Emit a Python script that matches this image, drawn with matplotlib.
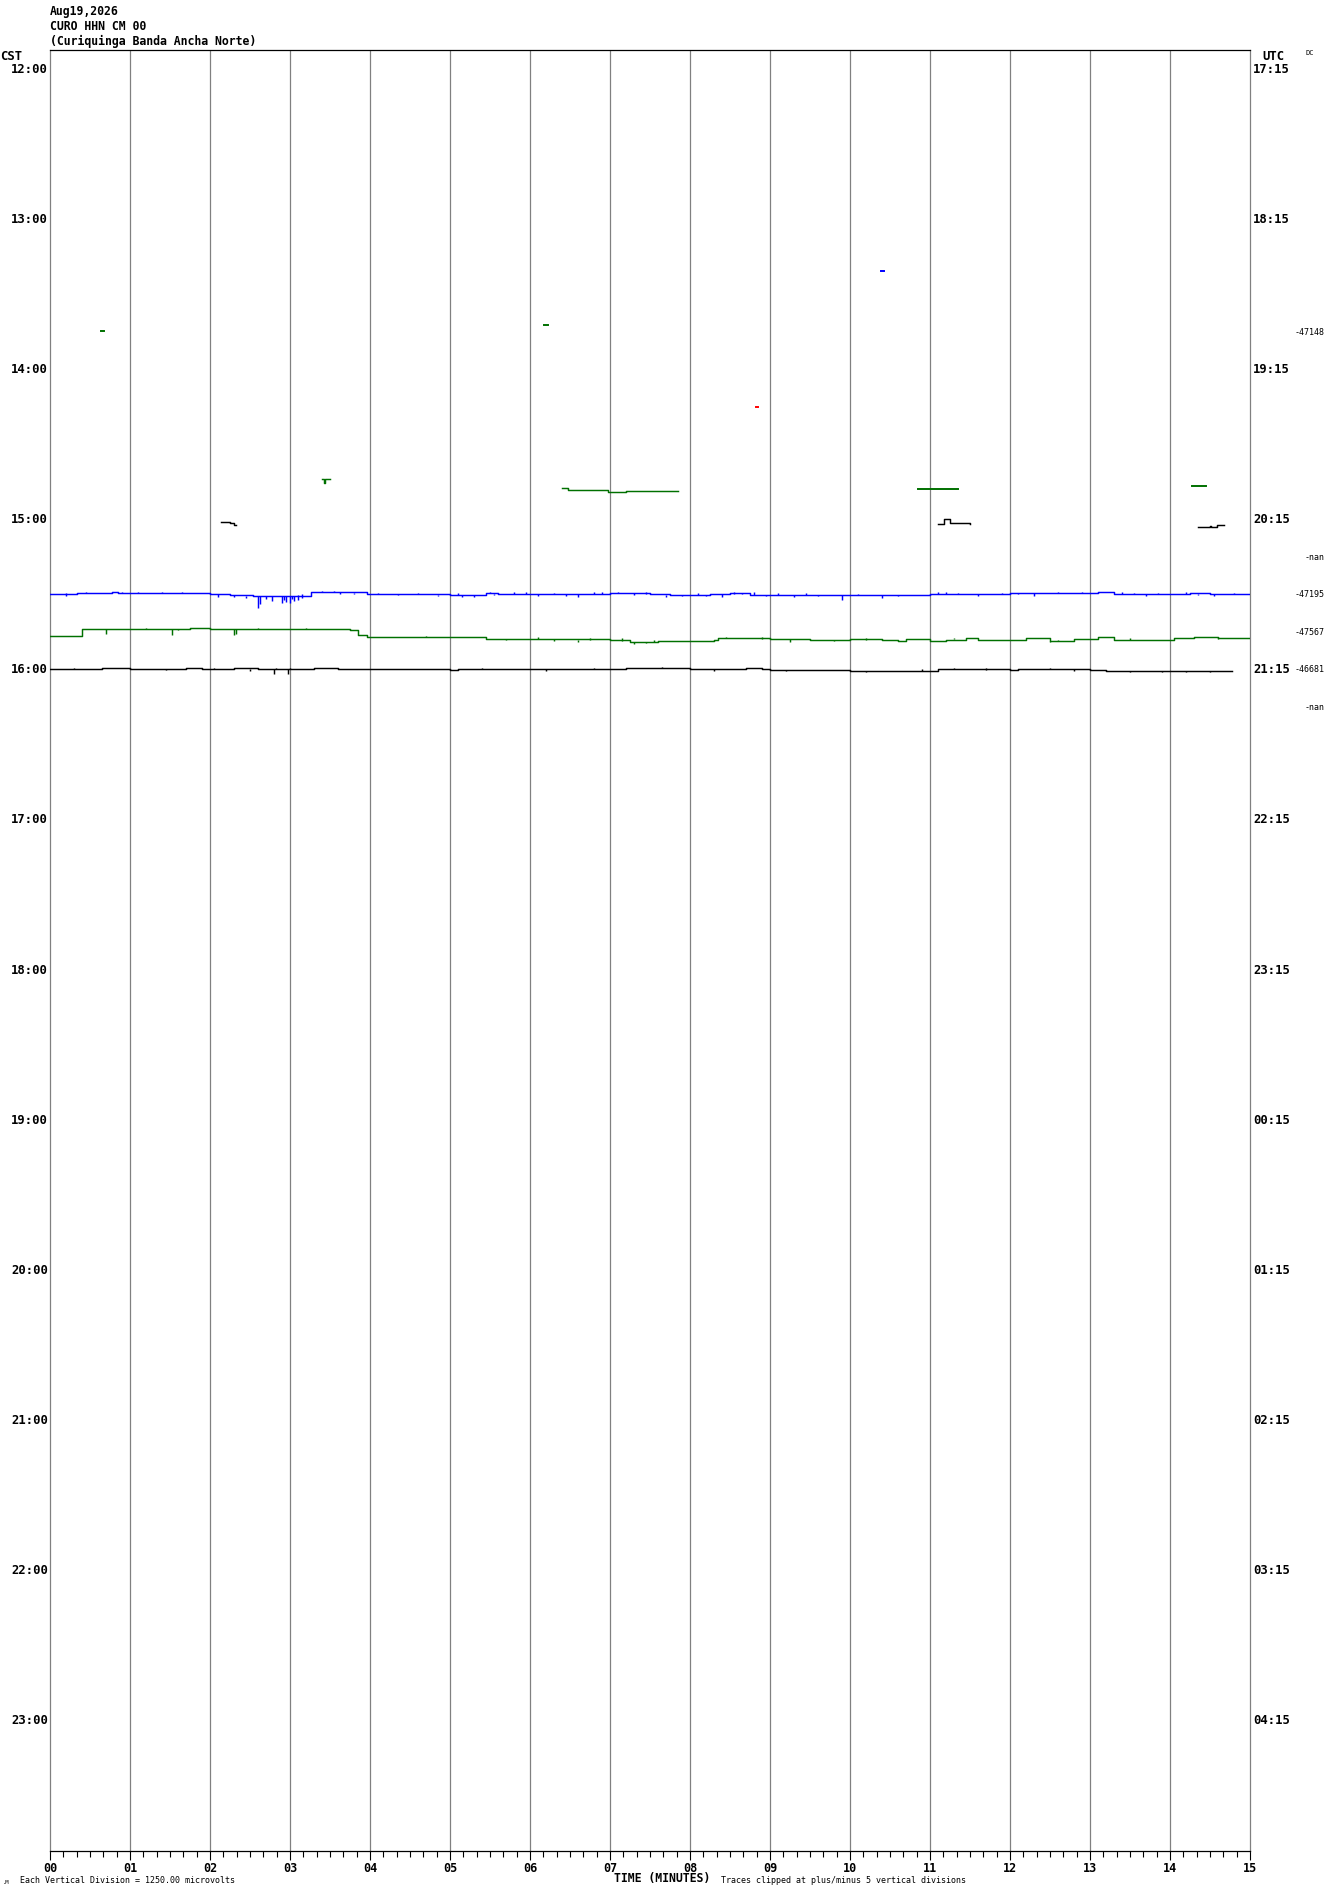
import numpy as np
import matplotlib
matplotlib.use('Agg')
import matplotlib.pyplot as plt
from matplotlib.transforms import blended_transform_factory

# --- figure geometry (pixels) ---
W, H = 1330, 1894
AX_L, AX_R, AX_T, AX_B = 50, 1250, 50, 1851
ROW_PX = 37.5          # spacing between traces (15 min)
FIRST_ROW_PX = 70      # 12:00 trace below the top edge

MONO = 'DejaVu Sans Mono'

# --- texts ---
HEADER = ['Aug19,2026', 'CURO HHN CM 00', '(Curiquinga Banda Ancha Norte)']
CST_HOURS = ['12:00', '13:00', '14:00', '15:00', '16:00', '17:00',
             '18:00', '19:00', '20:00', '21:00', '22:00', '23:00']
UTC_HOURS = ['17:15', '18:15', '19:15', '20:15', '21:15', '22:15',
             '23:15', '00:15', '01:15', '02:15', '03:15', '04:15']
MINUTE_LABELS = ['%02d' % m for m in range(16)]
TRACE_COLORS = ['#000000', '#ff0000', '#0000ff', '#007000']

# DC values printed at the right of some rows
DC_ROWS = [7, 13, 14, 15, 16, 17]
DC_TEXT = ['-47148', '-nan', '-47195', '-47567', '-46681', '-nan']

# --- trace data: time (minutes) and offset (pixels, + = down) ---
# row 14 (15:30, blue)
row14_t = [0, 0.34, 0.5, 0.78, 0.85, 1.25, 1.5, 1.75, 2.0, 2.25, 2.54, 2.75,
           3.0, 3.26, 3.5, 3.75, 3.96, 4.25, 4.5, 4.75, 5.0, 5.25, 5.45, 5.6,
           6.0, 6.25, 6.5, 6.75, 7.0, 7.25, 7.5, 7.75, 8.0, 8.25, 8.5, 8.75,
           9.0, 9.25, 9.5, 9.75, 10.0, 10.25, 10.5, 10.75, 11.0, 11.25, 11.5,
           11.75, 12.0, 12.25, 12.5, 12.75, 13.0, 13.1, 13.3, 13.75, 14.0,
           14.25, 14.5, 14.75, 15.0]
row14_off = [-1, -2, -2, -3, -1.7, -1.7, -2, -1.5, -1, 0, 1.5, 1.5,
             1.5, -2.7, -2.7, -2.5, -1, -1, -1, -0.5, 0.5, 0.5, -2, -1,
             -1, -0.5, -1, -1, -1.7, -1.7, -1, 0.3, 0, -0.5, -1.5, 0,
             0, 0.3, 0.3, 0.5, 0.3, 0.3, 0, 0.3, -1, -1, -0.5,
             -0.7, -2, -2, -1.5, -1.5, -2, -3, -1, -1, -1,
             -1.5, -1, -1, -1]
row14_spike_t = [0.2, 0.45, 0.9, 1.1, 1.4, 1.65, 2.1, 2.3, 2.45, 2.6, 2.62,
                 2.7, 2.78, 2.9, 2.93, 2.95, 3.0, 3.02, 3.05, 3.1, 3.15, 3.4,
                 3.55, 3.62, 3.8, 4.1, 4.35, 4.6, 4.85, 5.1, 5.15, 5.3, 5.5,
                 5.55, 5.8, 5.95, 6.1, 6.3, 6.45, 6.6, 6.8, 6.9, 7.1, 7.3,
                 7.45, 7.7, 7.9, 8.1, 8.2, 8.4, 8.55, 8.65, 8.8, 8.95, 9.1,
                 9.3, 9.45, 9.6, 9.9, 10.1, 10.4, 10.6, 11.1, 11.2, 11.35,
                 11.6, 11.9, 12.1, 12.3, 12.6, 12.9, 13.4, 13.55, 13.7,
                 13.85, 14.2, 14.35, 14.55, 14.8]
row14_spike_off = [1, -2.5, -3, -3, -3, -3, 2, 2, 3, 13, 9,
                   4, 6, 8, 5, 7, 8, 4, 6, 5, 3, -4,
                   -4, -1, -1, -2, 0.5, -2, 1.5, -2, 2.5, 2, -3,
                   0.5, -3, -2.5, 1, -2, 1, 2.5, -3, -3, -3, 0,
                   -3, 2.5, 1.5, -2, 1.5, 2, -2.5, -2, -3, 1.5, -1.5,
                   2, -1.5, 1.5, 5.5, -1, 3, 1.5, -2.5, -2.5, -2,
                   1, -2, -1, 1.5, -3, -3, -2.5, -2, 1.5,
                   -2, -2.5, 0.5, 1.5, -2]

# row 15 (15:45, green)
row15_t = [0, 0.36, 0.4, 1.0, 1.7, 1.75, 1.9, 2.0, 2.5, 3.0, 3.6, 3.75,
           3.85, 3.96, 4.5, 5.0, 5.35, 5.45, 6.0, 6.5, 7.0, 7.25, 7.4, 7.6,
           8.0, 8.3, 8.35, 8.6, 9.0, 9.5, 10.0, 10.4, 10.6, 10.7, 11.0,
           11.2, 11.45, 11.6, 12.0, 12.2, 12.5, 12.8, 13.1, 13.3, 14.0,
           14.05, 14.3, 14.6, 15.0]
row15_off = [3.5, 3.5, -3, -3, -3, -4.5, -4.5, -3.5, -3.5, -3.5, -3.5, -2,
             3, 4.5, 5, 5, 5, 6.5, 6.5, 7, 7.5, 9.5, 10, 9,
             8.5, 8, 5.5, 6, 6.5, 7.5, 7, 8, 8.5, 6.5, 8.5,
             7.5, 5.5, 7.5, 7.5, 6, 9, 7, 5, 7.5, 7.5,
             5.5, 4.5, 5.5, 5.5]
row15_spike_t = [0.7, 1.2, 1.53, 1.6, 2.3, 2.32, 2.6, 3.2, 4.7, 5.7, 6.1,
                 6.3, 6.6, 6.75, 7.15, 7.3, 7.45, 7.55, 8.45, 8.9, 9.25,
                 9.8, 10.2, 11.3, 12.5, 12.6, 13.5, 14.6]
row15_spike_off = [2, -4.5, 3, -2, 3, 2, -4.5, -4.5, 4, 7.5, 5,
                   9, 9.5, 5.5, 6, 12, 11, 8, 5, 5, 10,
                   8.5, 6, 6, 10, 7.5, 6, 7]

# row 16 (16:00, black)
row16_t = [0, 0.5, 0.65, 0.98, 1.0, 1.6, 1.7, 1.9, 2.3, 2.6, 3.0, 3.3, 3.6,
           4.0, 5.0, 5.1, 5.7, 6.0, 6.5, 7.0, 7.2, 7.8, 8.0, 8.5, 8.7, 8.9,
           9.0, 9.5, 10.0, 10.4, 11.0, 11.1, 11.5, 12.0, 12.1, 12.5, 13.0,
           13.2, 14.5, 14.78]
row16_off = [-1, -1, -2.3, -2.3, -1, -1, -2, -1, -1.5, -1, -1, -2, -1,
             -0.5, 0, -1.3, -1.3, -0.5, -0.7, -0.5, -1.7, -1.7, -0.5, -0.5, -1.5, -0.5,
             0.5, 0.5, 1, 1, 1, -0.7, -0.7, 0, -1.3, -1.3, 0,
             1, 1, 1]
row16_spike_t = [0.3, 0.9, 1.45, 2.05, 2.5, 2.8, 2.82, 2.98, 3.0, 3.45,
                 4.4, 5.4, 6.2, 6.8, 7.65, 8.3, 9.2, 10.2, 10.9, 11.3, 11.7,
                 12.5, 12.8, 13.5, 13.9, 14.2, 14.5]
row16_spike_off = [-2, -2, 0.5, -2, 1, 4, -2, 4, -2, -2,
                   0.5, -2, 1.5, -2, -2.5, 1, 1.5, 2.5, -0.5, -2, -1.5,
                   -2, 1.5, 2, 2, 2.5, 2.5]

# short fragments in the earlier rows: (row, times, offsets)
frag_rows = [6, 7, 7, 9, 11, 11, 11, 11, 12, 12, 12]
frag_t = [[10.39, 10.43],
          [0.64, 0.68],
          [6.17, 6.22],
          [8.82, 8.85],
          [3.40, 3.42, 3.42, 3.44, 3.50],
          [6.40, 6.46, 6.48, 6.97, 6.98, 7.18, 7.20, 7.85],
          [10.85, 11.35],
          [14.27, 14.45],
          [2.14, 2.22, 2.25, 2.30, 2.32],
          [11.10, 11.18, 11.25, 11.50],
          [14.35, 14.50, 14.51, 14.58, 14.59, 14.67]]
frag_off = [[-24, -24],
            [-1.5, -1.5],
            [-7.5, -7.5],
            [0, 0],
            [-3, -3, 0.8, -3, -3],
            [5.8, 5.8, 8, 8, 10, 10, 9, 9],
            [7, 7],
            [4, 4],
            [2, 2, 3.5, 5, 5],
            [4.3, -0.7, 3.3, 4],
            [7, 6, 6.7, 6.7, 5, 5]]


def px_to_fig(x, y):
    return x / W, 1 - y / H


fig = plt.figure(figsize=(W / 100, H / 100), dpi=100)
ax = fig.add_axes([AX_L / W, 1 - AX_B / H, (AX_R - AX_L) / W, (AX_B - AX_T) / H])

ax.set_xlim(0, 15)
ax.set_ylim((AX_B - FIRST_ROW_PX) / ROW_PX, (AX_T - FIRST_ROW_PX) / ROW_PX)

# vertical minute lines
for m in range(1, 15):
    ax.axvline(m, color='#808080', lw=0.9, zorder=1)


def draw_trace(row, t, off, spike_t=None, spike_off=None, lw=1.05):
    color = TRACE_COLORS[row % 4]
    y = row + np.asarray(off, float) / ROW_PX
    ax.plot(t, y, color=color, lw=lw, drawstyle='steps-post', zorder=3)
    if spike_t:
        base = row + np.interp(spike_t, t, off) / ROW_PX
        tips = row + np.asarray(spike_off, float) / ROW_PX
        ax.vlines(spike_t, base, tips, color=color, lw=lw, zorder=3)


draw_trace(14, row14_t, row14_off, row14_spike_t, row14_spike_off)
draw_trace(15, row15_t, row15_off, row15_spike_t, row15_spike_off)
draw_trace(16, row16_t, row16_off, row16_spike_t, row16_spike_off)
for r, t, o in zip(frag_rows, frag_t, frag_off):
    draw_trace(r, t, o, lw=1.4 if len(t) == 2 else 1.05)

# spines
for side in ['left', 'right']:
    ax.spines[side].set_color('#808080')
    ax.spines[side].set_linewidth(0.9)
for side in ['top', 'bottom']:
    ax.spines[side].set_color('black')
    ax.spines[side].set_linewidth(0.9)

# x axis
ax.set_xticks(range(16))
ax.set_xticklabels(MINUTE_LABELS, fontfamily=MONO, fontweight='bold', fontsize=8.5)
ax.set_xticks(np.arange(0, 15, 1 / 6), minor=True)
ax.tick_params(axis='x', which='major', direction='out', length=6.5, width=0.8, pad=1.5)
ax.tick_params(axis='x', which='minor', direction='out', length=4.5, width=0.8)
ax.set_yticks([])

# hour labels
trans = blended_transform_factory(ax.transAxes, ax.transData)
for i, (cst, utc) in enumerate(zip(CST_HOURS, UTC_HOURS)):
    row = i * 4
    ax.text(-2 / 1200, row, cst, transform=trans, ha='right', va='center',
            fontfamily=MONO, fontweight='bold', fontsize=8.8)
    ax.text(1 + 3 / 1200, row, utc, transform=trans, ha='left', va='center',
            fontfamily=MONO, fontweight='bold', fontsize=8.8)

for r, s in zip(DC_ROWS, DC_TEXT):
    ax.text((1325 - AX_L) / 1200, r, s, transform=trans, ha='right', va='center',
            fontfamily=MONO, fontsize=6)

# header and corner texts
for i, s in enumerate(HEADER):
    fig.text(*px_to_fig(50, 11 + 15 * i), s, ha='left', va='center',
             fontfamily=MONO, fontweight='bold', fontsize=8.3)
fig.text(*px_to_fig(0, 57), 'CST', ha='left', va='center',
         fontfamily=MONO, fontweight='bold', fontsize=8.8)
fig.text(*px_to_fig(1262, 56), 'UTC', ha='left', va='center',
         fontfamily=MONO, fontweight='bold', fontsize=8.8)
fig.text(*px_to_fig(1305, 53), 'DC', ha='left', va='center',
         fontfamily=MONO, fontsize=5)

# footer
fig.text(*px_to_fig(20, 1880), 'Each Vertical Division = 1250.00 microvolts',
         ha='left', va='center', fontfamily=MONO, fontsize=6)
fig.text(*px_to_fig(614, 1878), 'TIME (MINUTES)', ha='left', va='center',
         fontfamily=MONO, fontweight='bold', fontsize=8.3)
fig.text(*px_to_fig(721, 1880), 'Traces clipped at plus/minus 5 vertical divisions',
         ha='left', va='center', fontfamily=MONO, fontsize=6)
fig.text(*px_to_fig(3, 1882), '.M', ha='left', va='center',
         fontfamily=MONO, fontsize=4)

fig.savefig('out.png', dpi=100)
